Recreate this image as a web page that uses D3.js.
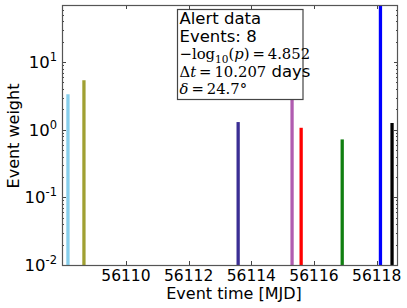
<!DOCTYPE html>
<html><head><meta charset="utf-8">
<script src="https://cdn.jsdelivr.net/npm/d3@7"></script>
<style>body{margin:0;background:#fff}svg{display:block}</style>
</head><body><svg id="c" width="407" height="308"></svg>
<script>
const times   = [56108.15, 56108.66, 56113.58, 56115.30, 56115.59, 56116.90, 56118.12, 56118.49];
const weights = [3.35, 5.4, 1.3, 4.0, 1.07, 0.72, 70, 1.26];
const colors  = ["#87ceeb", "#a0a032", "#3b2e94", "#b05cb0", "#ff0000", "#117f11", "#0000ff", "#000000"];
const xTicks  = [56110, 56112, 56114, 56116, 56118];
const yTicks  = [0.01, 0.1, 1, 10];
const yExp    = ["-2", "-1", "0", "1"];
const xDomain = [56107.96, 56118.68];
const yDomain = [0.01, 70];

const svg = d3.select("#c");
const L = 62, R = 398, T = 5, B = 265;
const x = d3.scaleLinear().domain(xDomain).range([L, R]);
const y = d3.scaleLog().domain(yDomain).range([B, T]);
const font = "DejaVu Sans, sans-serif";

// bars
svg.append("g").selectAll("line").data(times).join("line")
  .attr("x1", d => x(d)).attr("x2", d => x(d))
  .attr("y1", B).attr("y2", (d, i) => y(weights[i]))
  .attr("stroke", (d, i) => colors[i]).attr("stroke-width", 3.3);

// minor log ticks
const minor = [];
for (let e = -2; e <= 1; e++) for (let m = 2; m <= 9; m++) { const v = m * Math.pow(10, e); if (v <= yDomain[1]) minor.push(v); }

const ax = svg.append("g").attr("stroke", "#444").attr("stroke-width", 1);
ax.selectAll(".ymaj").data(yTicks).join("g").each(function(d) {
  const g = d3.select(this), yy = Math.round(y(d)) + 0.5;
  g.append("line").attr("x1", L).attr("x2", L + 4).attr("y1", yy).attr("y2", yy);
  g.append("line").attr("x1", R - 4).attr("x2", R).attr("y1", yy).attr("y2", yy);
});
ax.selectAll(".ymin").data(minor).join("g").each(function(d) {
  const g = d3.select(this), yy = Math.round(y(d)) + 0.5;
  g.append("line").attr("x1", L).attr("x2", L + 2).attr("y1", yy).attr("y2", yy);
  g.append("line").attr("x1", R - 2).attr("x2", R).attr("y1", yy).attr("y2", yy);
});
ax.selectAll(".xmaj").data(xTicks).join("g").each(function(d) {
  const g = d3.select(this), xx = Math.round(x(d)) + 0.5;
  g.append("line").attr("x1", xx).attr("x2", xx).attr("y1", B).attr("y2", B - 4);
  g.append("line").attr("x1", xx).attr("x2", xx).attr("y1", T).attr("y2", T + 4);
});

// frame
svg.append("rect").attr("x", L + 0.5).attr("y", T + 0.5).attr("width", R - L - 1).attr("height", B - T)
  .attr("fill", "none").attr("stroke", "#555").attr("stroke-width", 1.2);

// y tick labels
const yl = svg.append("g").attr("font-family", font).attr("fill", "#000");
yTicks.forEach((d, i) => {
  const t = yl.append("text").attr("x", 57).attr("y", y(d) + 6).attr("text-anchor", "end").attr("font-size", 16.5);
  t.append("tspan").text("10");
  t.append("tspan").attr("dy", -7).attr("font-size", 11.5).text(yExp[i]);
});
// x tick labels
svg.append("g").selectAll("text").data(xTicks).join("text")
  .attr("x", d => x(d)).attr("y", 281).attr("text-anchor", "middle")
  .attr("font-family", font).attr("font-size", 15.5).text(d => d);

// axis labels
svg.append("text").attr("x", 234).attr("y", 299).attr("text-anchor", "middle")
  .attr("font-family", font).attr("font-size", 16).text("Event time [MJD]");
svg.append("text").attr("transform", "translate(19,136) rotate(-90)").attr("text-anchor", "middle")
  .attr("font-family", font).attr("font-size", 16).text("Event weight");

// info box
const bx = 177.5, by = 9.5, bw = 125.5, bh = 90;
svg.append("rect").attr("x", bx).attr("y", by).attr("width", bw).attr("height", bh)
  .attr("fill", "#fff").attr("stroke", "#444").attr("stroke-width", 1.2);
const serif = "DejaVu Serif, serif";
const tx = 179.5;
svg.append("text").attr("x", tx).attr("y", 23.5).attr("font-family", font).attr("font-size", 16.5).text("Alert data");
svg.append("text").attr("x", tx).attr("y", 41.5).attr("font-family", font).attr("font-size", 16.5).text("Events: 8");
const l3 = svg.append("text").attr("x", tx).attr("y", 59).attr("font-family", serif).attr("font-size", 14.8);
l3.append("tspan").text("\u2212log");
l3.append("tspan").attr("dy", 4).attr("font-size", 10.5).text("10");
l3.append("tspan").attr("dy", -4).text("(");
l3.append("tspan").attr("font-style", "italic").text("p");
l3.append("tspan").text(")\u2009=\u20094.852");
const l4 = svg.append("text").attr("x", tx).attr("y", 77).attr("font-family", serif).attr("font-size", 14.8);
l4.append("tspan").text("\u0394");
l4.append("tspan").attr("font-style", "italic").text("t");
l4.append("tspan").text("\u2009=\u200910.207");
l4.append("tspan").attr("font-family", font).attr("font-size", 16.5).text(" days");
const l5 = svg.append("text").attr("x", tx).attr("y", 94).attr("font-family", serif).attr("font-size", 14.8);
l5.append("tspan").attr("font-style", "italic").text("\u03b4");
l5.append("tspan").text("\u2009=\u200924.7\u00b0");
</script></body></html>
